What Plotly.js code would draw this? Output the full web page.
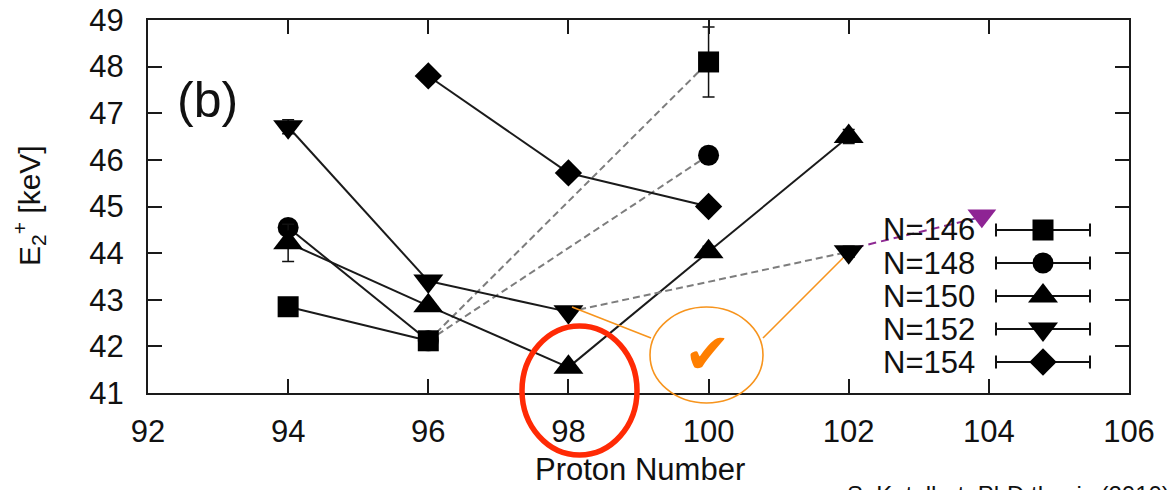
<!DOCTYPE html>
<html>
<head>
<meta charset="utf-8">
<script src="https://cdn.plot.ly/plotly-3.0.1.min.js"></script>
<style>html,body{margin:0;padding:0;background:#fff;overflow:hidden}#chart{width:1167px;height:490px}</style>
</head>
<body>
<div id="chart"></div>
<script>
// ---------- data ----------
const seriesNames = ["N=146", "N=148", "N=150", "N=152", "N=154"];

const n146_x = [94, 96, 100];
const n146_y = [42.85, 42.12, 48.1];
const n146_err = [0, 0, 0.75];
const n146_links = ["solid", "dash"];

const n148_x = [94, 96, 100];
const n148_y = [44.55, 42.12, 46.1];
const n148_err = [0, 0, 0];
const n148_links = ["solid", "dash"];

const n150_x = [94, 96, 98, 100, 102];
const n150_y = [44.22, 42.87, 41.55, 44.03, 46.5];
const n150_err = [0.4, 0, 0, 0.12, 0.15];
const n150_links = ["solid", "solid", "solid", "solid"];

const n152_x = [94, 96, 98, 102];
const n152_y = [46.71, 43.4, 42.74, 44.03];
const n152_err = [0.15, 0, 0, 0.12];
const n152_links = ["solid", "solid", "dash"];

const n154_x = [96, 98, 100];
const n154_y = [47.8, 45.72, 45.0];
const n154_err = [0, 0, 0];
const n154_links = ["solid", "solid"];

// predicted point (purple) and its dashed guide
const predLine_x = [102.1, 103.8];
const predLine_y = [44.12, 44.74];
const pred_x = [103.9];
const pred_y = [44.8];

const xTicks = [92, 94, 96, 98, 100, 102, 104, 106];
const yTicks = [41, 42, 43, 44, 45, 46, 47, 48, 49];

// ---------- layout helpers ----------
const PAGE_W = 1167, PAGE_H = 490;
const ML = 148, MR = 38, MT = 20, MB = 97;
const PW = PAGE_W - ML - MR, PH = PAGE_H - MT - MB;
const px = v => (v - ML) / PW;          // page x pixel -> paper
const py = v => (PAGE_H - MB - v) / PH; // page y pixel -> paper
const FONT = "Liberation Sans, Arial, Helvetica, sans-serif";

const symbols = ["square", "circle", "triangle-up", "triangle-down", "diamond"];
const sizes = [21, 21, 26, 26, 21];
const series = [
  {x: n146_x, y: n146_y, e: n146_err, l: n146_links},
  {x: n148_x, y: n148_y, e: n148_err, l: n148_links},
  {x: n150_x, y: n150_y, e: n150_err, l: n150_links},
  {x: n152_x, y: n152_y, e: n152_err, l: n152_links},
  {x: n154_x, y: n154_y, e: n154_err, l: n154_links}
];
const drawOrder = [1, 0, 2, 3, 4]; // circles under squares

const traces = [];
// connecting segments first (below markers)
series.forEach(s => {
  for (let i = 0; i < s.l.length; i++) {
    const dashed = s.l[i] === "dash";
    traces.push({
      type: "scatter", mode: "lines",
      x: [s.x[i], s.x[i + 1]], y: [s.y[i], s.y[i + 1]],
      line: dashed ? {color: "#7d7d7d", width: 2, dash: "7px,4px"} : {color: "#1a1a1a", width: 2},
      hoverinfo: "skip", showlegend: false
    });
  }
});
traces.push({
  type: "scatter", mode: "lines", x: predLine_x, y: predLine_y,
  line: {color: "#8e2a93", width: 2, dash: "8px,5px"}, showlegend: false, hoverinfo: "skip"
});
drawOrder.forEach(k => {
  const s = series[k];
  traces.push({
    type: "scatter", mode: "markers", name: seriesNames[k],
    x: s.x, y: s.y,
    marker: {symbol: symbols[k], size: sizes[k], color: "#000"},
    error_y: {type: "data", array: s.e, visible: true, color: "#111", thickness: 1.5, width: 6},
    showlegend: false
  });
});
traces.push({
  type: "scatter", mode: "markers", x: pred_x, y: pred_y,
  marker: {symbol: "triangle-down", size: 25, color: "#8e2494"}, showlegend: false
});

// custom key (gnuplot style) on an overlay [0,1] axis pair
const keyX = px(1043), keyHalf = 47 / PW, keyTop = py(230), keyStep = 33 / PH;
const annotations = [];
seriesNames.forEach((nm, k) => {
  const ky = keyTop - k * keyStep;
  traces.push({
    type: "scatter", mode: "markers", xaxis: "x2", yaxis: "y2",
    x: [keyX], y: [ky],
    marker: {symbol: symbols[k], size: sizes[k], color: "#000"},
    error_x: {type: "data", array: [keyHalf], visible: true, color: "#111", thickness: 2, width: 6.5},
    showlegend: false, hoverinfo: "skip"
  });
  annotations.push({
    xref: "paper", yref: "paper", x: px(977), y: ky, xanchor: "right", yanchor: "middle",
    text: nm, showarrow: false, font: {family: FONT, size: 31, color: "#111"}
  });
});

annotations.push(
  {xref: "paper", yref: "paper", x: px(207), y: py(100), xanchor: "center", yanchor: "middle",
   text: "(b)", showarrow: false, font: {family: FONT, size: 50, color: "#111"}},
  {xref: "paper", yref: "paper", x: px(29), y: py(206), xanchor: "center", yanchor: "middle",
   textangle: -90, text: "E<sub>2</sub><sup>+</sup> [keV]", showarrow: false,
   font: {family: FONT, size: 30, color: "#111"}},
  {xref: "paper", yref: "paper", x: px(640), y: py(470), xanchor: "center", yanchor: "middle",
   text: "Proton Number", showarrow: false, font: {family: FONT, size: 31, color: "#111"}},
  {xref: "paper", yref: "paper", x: px(845), y: py(479), xanchor: "left", yanchor: "top",
   text: "S. Katelhut, PhD thesis (2010)", showarrow: false, font: {family: FONT, size: 24, color: "#111"}},
  {xref: "paper", yref: "paper", x: px(707), y: py(353), xanchor: "center", yanchor: "middle",
   text: "\u2714", showarrow: false, font: {family: "DejaVu Sans", size: 56, color: "#ff7f00"}}
);

const shapes = [
  {type: "circle", xref: "paper", yref: "paper", x0: px(522), x1: px(637), y0: py(455), y1: py(326),
   line: {color: "#ff2a05", width: 5.5}},
  {type: "circle", xref: "paper", yref: "paper", x0: px(650), x1: px(763), y0: py(403), y1: py(307),
   line: {color: "#f7941d", width: 1.6}},
  {type: "line", xref: "paper", yref: "paper", x0: px(572), y0: py(307), x1: px(651), y1: py(338),
   line: {color: "#f7941d", width: 1.6}},
  {type: "line", xref: "paper", yref: "paper", x0: px(763), y0: py(338), x1: px(843), y1: py(258),
   line: {color: "#f7941d", width: 1.6}}
];

const axisCommon = {
  showgrid: false, zeroline: false, showline: true, mirror: "ticks",
  linecolor: "#1a1a1a", linewidth: 2, ticks: "inside", ticklen: 14, tickwidth: 2,
  tickcolor: "#1a1a1a", tickfont: {family: FONT, size: 31, color: "#111"}, fixedrange: true
};

const layout = {
  width: PAGE_W, height: PAGE_H,
  margin: {l: ML, r: MR, t: MT, b: MB, pad: 0},
  paper_bgcolor: "#fff", plot_bgcolor: "#fff",
  showlegend: false,
  xaxis: Object.assign({}, axisCommon, {range: [92, 106], tickvals: xTicks, ticktext: xTicks.map(String), ticklabelstandoff: 10}),
  yaxis: Object.assign({}, axisCommon, {range: [41, 49], tickvals: yTicks, ticktext: yTicks.map(String), ticklabelstandoff: 16}),
  xaxis2: {overlaying: "x", anchor: "y2", range: [0, 1], visible: false, fixedrange: true},
  yaxis2: {overlaying: "y", anchor: "x2", range: [0, 1], visible: false, fixedrange: true},
  annotations: annotations,
  shapes: shapes
};

Plotly.newPlot("chart", traces, layout, {staticPlot: true, displayModeBar: false});
</script>
</body>
</html>
